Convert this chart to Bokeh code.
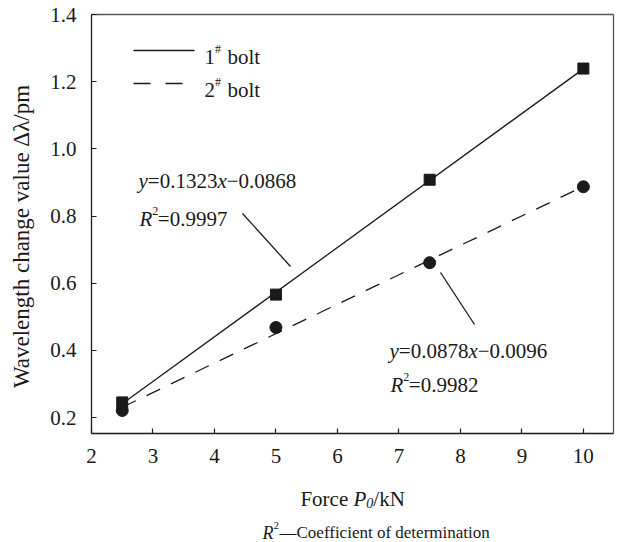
import numpy as np
from bokeh.plotting import figure
from bokeh.models import Label, Arrow, Range1d, FixedTicker, LinearAxis, CustomJSTickFormatter
from bokeh.embed import file_html
from bokeh.resources import INLINE

# ---- data ----
force = [2.5, 5.0, 7.5, 10.0]
bolt1 = [0.245, 0.566, 0.908, 1.239]
bolt2 = [0.221, 0.468, 0.661, 0.887]
x_ticks = [2, 3, 4, 5, 6, 7, 8, 9, 10]
y_ticks = [0.2, 0.4, 0.6, 0.8, 1.0, 1.2, 1.4]
x_box = (2.0, 10.49)      # plotted box extent on x
y_box = (0.1524, 1.4)     # plotted box extent on y
eq1 = ("y", "=0.1323", "x", "\u22120.0868")
r1 = "=0.9997"
eq2 = ("y", "=0.0878", "x", "\u22120.0096")
r2 = "=0.9982"

FONT = "Liberation Serif"
FS = 21
INK = "#1a1a1a"
W, H = 620, 542
# page-pixel placement of the box (frame spans whole canvas)
BL, BR, BT, BB = 91, 613, 14, 433
sx_per = (BR - BL) / (x_box[1] - x_box[0])
sy_per = (BB - BT) / (y_box[1] - y_box[0])
xr = Range1d(x_box[0] - BL / sx_per, x_box[1] + (W - BR) / sx_per)
yr = Range1d(y_box[0] - (H - BB) / sy_per, y_box[1] + BT / sy_per)

p = figure(width=W, height=H, output_backend="svg", toolbar_location=None,
           x_range=xr, y_range=yr, min_border=0, x_axis_location=None, y_axis_location=None)
p.grid.visible = False
p.outline_line_color = None
p.background_fill_color = "white"
p.border_fill_color = "white"


def style_axis(ax, labels=True):
    ax.major_tick_in = 5 if labels else 0
    ax.major_tick_out = 0
    ax.minor_tick_in = 0
    ax.minor_tick_out = 0
    ax.axis_line_color = INK
    ax.axis_line_width = 1.3
    ax.major_tick_line_color = INK
    ax.major_tick_line_width = 1.2
    ax.major_label_text_font = FONT
    ax.major_label_text_font_size = f"{FS}px"
    ax.major_label_text_color = INK


xa = LinearAxis(fixed_location=y_box[0], bounds=x_box, ticker=FixedTicker(ticks=x_ticks))
ya = LinearAxis(fixed_location=x_box[0], bounds=y_box, ticker=FixedTicker(ticks=y_ticks),
                formatter=CustomJSTickFormatter(code="return tick.toFixed(1);"))
ta = LinearAxis(fixed_location=y_box[1], bounds=x_box, ticker=FixedTicker(ticks=[]))
ra = LinearAxis(fixed_location=x_box[1], bounds=y_box, ticker=FixedTicker(ticks=[]))
for a in (xa, ya):
    style_axis(a)
for a in (ta, ra):
    style_axis(a, labels=False)
    a.axis_line_color = "#555555"
xa.major_label_standoff = 15
ya.major_label_standoff = 15
p.add_layout(xa, "below")
p.add_layout(ya, "left")
p.add_layout(ta, "above")
p.add_layout(ra, "right")

# fitted lines from the data (least squares)
xs_line = np.array([force[0], force[-1]])
k1, b1 = np.polyfit(force, bolt1, 1)
k2, b2 = np.polyfit(force, bolt2, 1)
p.line(xs_line, k1 * xs_line + b1, line_color=INK, line_width=1.3)
p.line(xs_line, k2 * xs_line + b2, line_color=INK, line_width=1.3, line_dash="15 12")

p.scatter(force, bolt1, marker="square", size=11, fill_color=INK, line_color=INK)
p.scatter(force, bolt2, marker="circle", size=12, fill_color=INK, line_color=INK)


def lab(x, y, text, size=FS, style="normal", align="left", baseline="alphabetic", angle=0):
    # x, y in page pixels from top-left
    p.add_layout(Label(x=x, y=H - y, x_units="screen", y_units="screen", text=text,
                       text_font=FONT, text_font_size=f"{size}px", text_font_style=style,
                       text_color=INK, text_align=align, text_baseline=baseline, angle=angle))


def seg(x0, y0, x1, y1, dash="solid"):
    p.add_layout(Arrow(x_start=x0, y_start=H - y0, x_end=x1, y_end=H - y1,
                       start_units="screen", end_units="screen", end=None,
                       line_color=INK, line_width=1.3, line_dash=dash))


# legend
seg(133, 50, 194, 50)
lab(204, 56, "1")
lab(214.5, 48, "#", size=12)
lab(227, 56, "bolt")
seg(133, 83, 194, 83, dash="17 15")
lab(204, 89, "2")
lab(214.5, 81, "#", size=12)
lab(227, 89, "bolt")


def equation(x, y, parts, rtext, ry):
    em = FS
    cx = x
    lab(cx, y, parts[0], style="italic"); cx += 0.444 * em
    lab(cx, y, parts[1]); cx += (0.564 + 0.5 * 5 + 0.25) * em
    lab(cx, y, parts[2], style="italic"); cx += 0.444 * em
    lab(cx, y, parts[3])
    lab(x + 1, ry, "R", style="italic")
    lab(x + 1 + 0.611 * em, ry - 8, "2", size=12)
    lab(x + 1 + 0.611 * em + 5.5, ry, rtext)


equation(138, 180, eq1, r1, 218)
equation(389, 350, eq2, r2, 384)

# leader lines
seg(242, 213, 290, 266)
seg(440, 272, 474, 324)

# x axis title: Force P0/kN
ax0 = 353
lab(ax0, 498, "Force ", align="right")
lab(ax0, 498, "P", style="italic")
lab(ax0 + 12.8, 502, "0", size=14, style="italic")
lab(ax0 + 12.8 + 7, 498, "/kN")

# y axis title
lab(21, 236, "Wavelength change value \u0394\u03bb/pm", size=23, align="center", baseline="middle",
    angle=np.pi / 2)

# footnote
fx = 262
lab(fx, 532, "R", size=18, style="italic")
lab(fx + 11, 525, "2", size=11)
lab(fx + 17, 532, "\u2014Coefficient of determination", size=17)

open("out.html", "w").write(file_html(p, INLINE))
